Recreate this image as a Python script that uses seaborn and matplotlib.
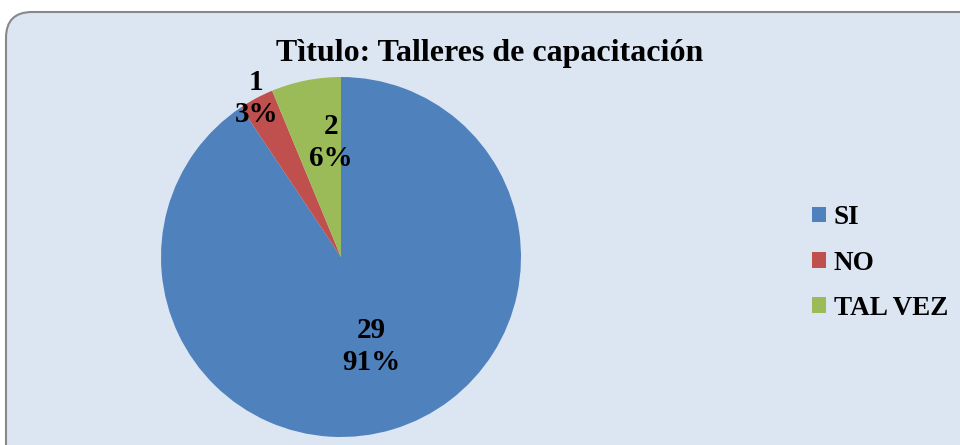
import matplotlib
matplotlib.use("Agg")
import matplotlib.pyplot as plt
import numpy as np
import seaborn as sns
from matplotlib.patches import FancyBboxPatch

# Data
categorias = ["SI", "NO", "TAL VEZ"]
valores = [29, 1, 2]
colores = ["#4F81BD", "#C0504D", "#9BBB59"]
titulo = "Tìtulo: Talleres de capacitación"

sns.set_style("white")
plt.rcParams['font.family'] = ['Liberation Serif', 'DejaVu Serif']
plt.rcParams['font.weight'] = 'bold'
plt.rcParams['text.color'] = 'black'

fig = plt.figure(figsize=(9.6, 4.45), dpi=100)
fig.patch.set_facecolor("white")

# rounded chart area (pixel coordinates)
caja = FancyBboxPatch((6, -30), 1000, 445 - 12 + 30,
                      boxstyle="round,pad=0,rounding_size=26",
                      transform=None, facecolor="#DCE6F2",
                      edgecolor="#888888", linewidth=1.5, zorder=-5)
fig.patches.append(caja)

ax = fig.add_axes([(341 - 180) / 960, (445 - 437) / 445, 360 / 960, 360 / 445])
ax.set_facecolor("none")
wedges, _ = ax.pie(valores, colors=colores, startangle=90, counterclock=False,
                   radius=1, wedgeprops=dict(linewidth=0))
ax.set_xlim(-1, 1)
ax.set_ylim(-1, 1)
ax.set_aspect("equal")
ax.axis("off")

# data labels: value and percentage (best-fit style positions)
total = sum(valores)
distancias = [0.52, 1.0, 0.65]
desplaz = [(2, 0), (0, 0), (9, 0)]
for w, v, d, off in zip(wedges, valores, distancias, desplaz):
    ang = np.deg2rad((w.theta1 + w.theta2) / 2)
    pct = round(100 * v / total)
    ax.annotate(f"{v}\n{pct}%", (d * np.cos(ang), d * np.sin(ang)), xytext=off,
                textcoords="offset points", ha="center", va="center",
                fontsize=21, fontweight="bold", linespacing=1.25, color="black")

fig.text(490 / 960, 1 - 54 / 445, titulo, ha="center", va="center",
         fontsize=23, fontweight="bold", color="black")

leg = fig.legend(wedges, categorias, loc="center left", bbox_to_anchor=(812 / 960, 1 - 263 / 445),
                 frameon=False, prop=dict(size=19.5, weight="bold"), borderpad=0, borderaxespad=0,
                 handlelength=0.5, handleheight=0.5, handletextpad=0.3, labelspacing=0.75)
for t in leg.get_texts():
    t.set_color("black")

fig.savefig("out.png", dpi=100)
